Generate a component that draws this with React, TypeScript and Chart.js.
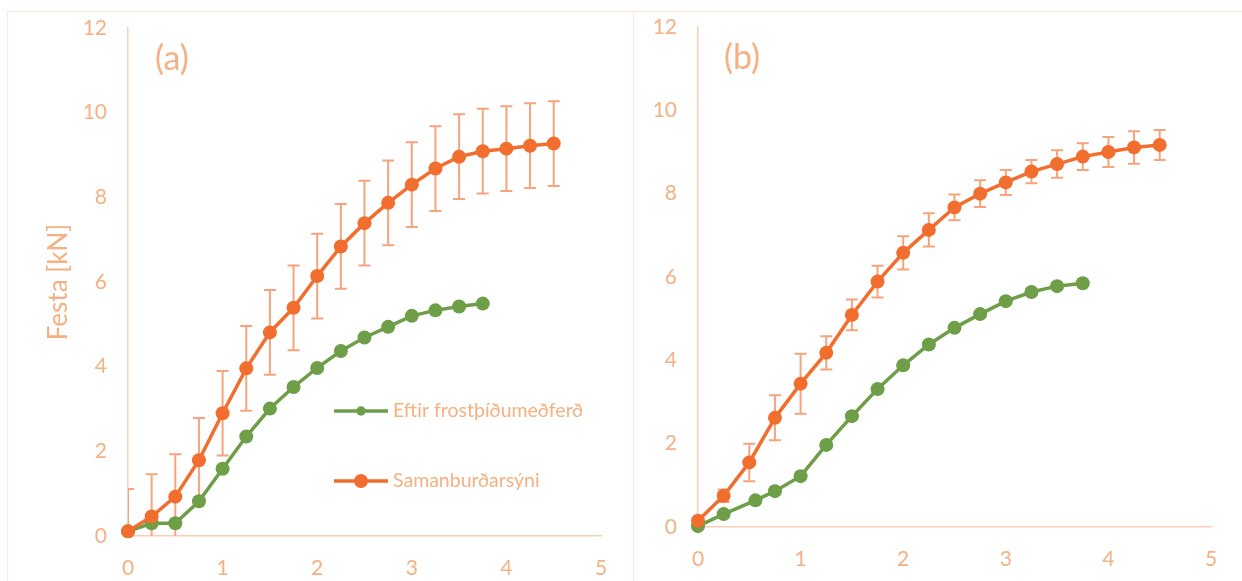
import { useEffect, useRef } from "react";
import { Chart, registerables } from "chart.js";

Chart.register(...registerables);

// ---------- data ----------
const seriesNames = ["Eftir frostþíðumeðferð", "Samanburðarsýni"];
const xTicks = [0, 1, 2, 3, 4, 5];
const yTicks = [0, 2, 4, 6, 8, 10, 12];

// panel (a)
const orangeXA = [0, 0.25, 0.5, 0.75, 1, 1.25, 1.5, 1.75, 2, 2.25, 2.5, 2.75, 3, 3.25, 3.5, 3.75, 4, 4.25, 4.5];
const orangeYA = [0.11, 0.46, 0.93, 1.79, 2.9, 3.96, 4.81, 5.39, 6.14, 6.84, 7.39, 7.87, 8.3, 8.68, 8.96, 9.09, 9.15, 9.22, 9.27];
const orangeErrA = [1, 1, 1, 1, 1, 1, 1, 1, 1, 1, 1, 1, 1, 1, 1, 1, 1, 1, 1];
const greenXA = [0, 0.25, 0.5, 0.75, 1, 1.25, 1.5, 1.75, 2, 2.25, 2.5, 2.75, 3, 3.25, 3.5, 3.75];
const greenYA = [0.11, 0.3, 0.3, 0.82, 1.59, 2.35, 3.01, 3.52, 3.97, 4.37, 4.69, 4.94, 5.2, 5.33, 5.42, 5.49];

// panel (b)
const orangeXB = [0, 0.25, 0.5, 0.75, 1, 1.25, 1.5, 1.75, 2, 2.25, 2.5, 2.75, 3, 3.25, 3.5, 3.75, 4, 4.25, 4.5];
const orangeYB = [0.15, 0.75, 1.55, 2.62, 3.44, 4.18, 5.09, 5.89, 6.58, 7.13, 7.67, 8.0, 8.27, 8.53, 8.71, 8.89, 9.0, 9.11, 9.17];
const orangeErrB = [0.05, 0.15, 0.45, 0.54, 0.72, 0.4, 0.37, 0.38, 0.4, 0.4, 0.31, 0.32, 0.3, 0.28, 0.33, 0.32, 0.36, 0.39, 0.36];
const greenXB = [0, 0.25, 0.56, 0.75, 1, 1.25, 1.5, 1.75, 2, 2.25, 2.5, 2.75, 3, 3.25, 3.5, 3.75];
const greenYB = [0.02, 0.31, 0.64, 0.86, 1.22, 1.97, 2.66, 3.31, 3.88, 4.38, 4.78, 5.11, 5.42, 5.64, 5.78, 5.85];

// ---------- styles ----------
const FONT = "Lato, 'Noto Sans', sans-serif";
const PEACH = "#F4B183";
const AXIS = "#F9D0B5";
const ORANGE = "#F26E2F";
const GREEN = "#6E9E48";
const ERR = "#F6A47E";

const errorBarPlugin = {
  id: "errorBars",
  beforeDatasetsDraw(chart: any) {
    const { ctx, chartArea, scales } = chart;
    ctx.save();
    ctx.beginPath();
    ctx.rect(chartArea.left, chartArea.top, chartArea.right - chartArea.left, chartArea.bottom - chartArea.top);
    ctx.clip();
    chart.data.datasets.forEach((ds: any) => {
      if (!ds.errors) return;
      ctx.strokeStyle = ERR;
      ctx.lineWidth = 2;
      ds.data.forEach((p: any, i: number) => {
        const e = ds.errors[i];
        const x = scales.x.getPixelForValue(p.x);
        const yt = scales.y.getPixelForValue(p.y + e);
        const yb = scales.y.getPixelForValue(p.y - e);
        const cap = 6;
        ctx.beginPath();
        ctx.moveTo(x, yt);
        ctx.lineTo(x, yb);
        ctx.moveTo(x - cap, yt);
        ctx.lineTo(x + cap, yt);
        ctx.moveTo(x - cap, yb);
        ctx.lineTo(x + cap, yb);
        ctx.stroke();
      });
    });
    ctx.restore();
  },
};

const overlayPlugin = {
  id: "overlay",
  afterDraw(chart: any, _args: any, opts: any) {
    const { ctx, chartArea } = chart;
    ctx.save();
    if (opts.label) {
      ctx.fillStyle = PEACH;
      ctx.font = `34px ${FONT}`;
      ctx.textAlign = "center";
      ctx.textBaseline = "middle";
      ctx.fillText(opts.label, chartArea.left + opts.labelDx, chartArea.top + opts.labelDy);
    }
    if (opts.legend) {
      const ds = chart.data.datasets;
      const rows = [
        { d: ds[0], r: 4.7, dy: 383 },
        { d: ds[1], r: 7, dy: 453 },
      ];
      rows.forEach((row) => {
        const y = chartArea.top + row.dy;
        const x0 = chartArea.left + 206;
        const x1 = chartArea.left + 260;
        ctx.strokeStyle = row.d.borderColor;
        ctx.lineWidth = 3.5;
        ctx.beginPath();
        ctx.moveTo(x0, y);
        ctx.lineTo(x1, y);
        ctx.stroke();
        ctx.fillStyle = row.d.backgroundColor;
        ctx.beginPath();
        ctx.arc((x0 + x1) / 2, y, row.r, 0, Math.PI * 2);
        ctx.fill();
        ctx.fillStyle = PEACH;
        ctx.font = `19.5px ${FONT}`;
        ctx.textAlign = "left";
        ctx.textBaseline = "middle";
        ctx.fillText(row.d.label, x1 + 5, y);
      });
    }
    ctx.restore();
  },
};

function makeConfig(p: any) {
  const green = {
    label: seriesNames[0],
    data: p.gx.map((x: number, i: number) => ({ x, y: p.gy[i] })),
    borderColor: GREEN,
    backgroundColor: GREEN,
    borderWidth: 3.5,
    pointRadius: 7,
    pointBorderWidth: 0,
    pointBackgroundColor: GREEN,
    showLine: true,
    clip: false,
    order: 1,
  };
  const orange = {
    label: seriesNames[1],
    data: p.ox.map((x: number, i: number) => ({ x, y: p.oy[i] })),
    errors: p.oe,
    borderColor: ORANGE,
    backgroundColor: ORANGE,
    borderWidth: 3.5,
    pointRadius: 7,
    pointBorderWidth: 0,
    pointBackgroundColor: ORANGE,
    showLine: true,
    clip: false,
    order: 0,
  };
  return {
    type: "scatter",
    data: { datasets: [green, orange] },
    plugins: [errorBarPlugin, overlayPlugin],
    options: {
      animation: false,
      responsive: false,
      maintainAspectRatio: false,
      events: [],
      layout: { padding: { left: 0, top: p.padTop, right: 32, bottom: 0 } },
      plugins: {
        legend: { display: false },
        tooltip: { enabled: false },
        overlay: { label: p.label, labelDx: 44, labelDy: 31, legend: p.legend },
      },
      scales: {
        x: {
          type: "linear",
          min: xTicks[0],
          max: xTicks[xTicks.length - 1],
          afterBuildTicks: (s: any) => {
            s.ticks = xTicks.map((v) => ({ value: v }));
          },
          ticks: { color: PEACH, font: { family: FONT, size: 21 }, padding: 20 },
          grid: { display: true, drawOnChartArea: false, drawTicks: false },
          border: { display: true, color: AXIS, width: 1.5 },
          afterFit: (s: any) => {
            s.height = p.xH;
            s.paddingLeft = 0;
            s.paddingRight = 0;
            s.paddingTop = 0;
            s.paddingBottom = 0;
          },
        },
        y: {
          type: "linear",
          min: yTicks[0],
          max: yTicks[yTicks.length - 1],
          afterBuildTicks: (s: any) => {
            s.ticks = yTicks.map((v) => ({ value: v }));
          },
          ticks: { color: PEACH, font: { family: FONT, size: 21 }, padding: 21 },
          grid: { display: true, drawOnChartArea: false, drawTicks: false },
          border: { display: true, color: AXIS, width: 1.5 },
          title: {
            display: !!p.yTitle,
            text: p.yTitle || "",
            color: PEACH,
            font: { family: FONT, size: 26 },
            padding: { top: 34.4, bottom: 0 },
          },
          afterFit: (s: any) => {
            s.width = p.yW;
            s.paddingLeft = 0;
            s.paddingRight = 0;
            s.paddingTop = 0;
            s.paddingBottom = 0;
          },
        },
      },
    },
  };
}

function Panel(props: any) {
  const ref = useRef<HTMLCanvasElement>(null);
  useEffect(() => {
    const chart = new Chart(ref.current as HTMLCanvasElement, makeConfig(props.cfg) as any);
    return () => chart.destroy();
  }, []);
  return (
    <canvas
      ref={ref}
      width={props.w}
      height={props.h}
      style={{ position: "absolute", left: 1, top: 1, width: props.w, height: props.h, display: "block" }}
    />
  );
}

export default function App() {
  const borderCol = "#FDE8DB";
  return (
    <div style={{ position: "absolute", left: 0, top: 0, width: 1242, height: 581, overflow: "hidden", background: "#fff" }}>
      <div
        style={{
          position: "absolute",
          left: 7,
          top: 11,
          width: 626,
          height: 600,
          borderLeft: `1px solid ${borderCol}`,
          borderTop: `1px solid ${borderCol}`,
        }}
      >
        <Panel
          w={624}
          h={569}
          cfg={{
            ox: orangeXA, oy: orangeYA, oe: orangeErrA, gx: greenXA, gy: greenYA,
            padTop: 15, yW: 119, xH: 46, label: "(a)", legend: true, yTitle: "Festa [kN]",
          }}
        />
      </div>
      <div
        style={{
          position: "absolute",
          left: 633,
          top: 11,
          width: 620,
          height: 600,
          borderLeft: `1px solid ${borderCol}`,
          borderTop: `1px solid ${borderCol}`,
        }}
      >
        <Panel
          w={608}
          h={569}
          cfg={{
            ox: orangeXB, oy: orangeYB, oe: orangeErrB, gx: greenXB, gy: greenYB,
            padTop: 14, yW: 63, xH: 55, label: "(b)", legend: false, yTitle: "",
          }}
        />
      </div>
    </div>
  );
}
